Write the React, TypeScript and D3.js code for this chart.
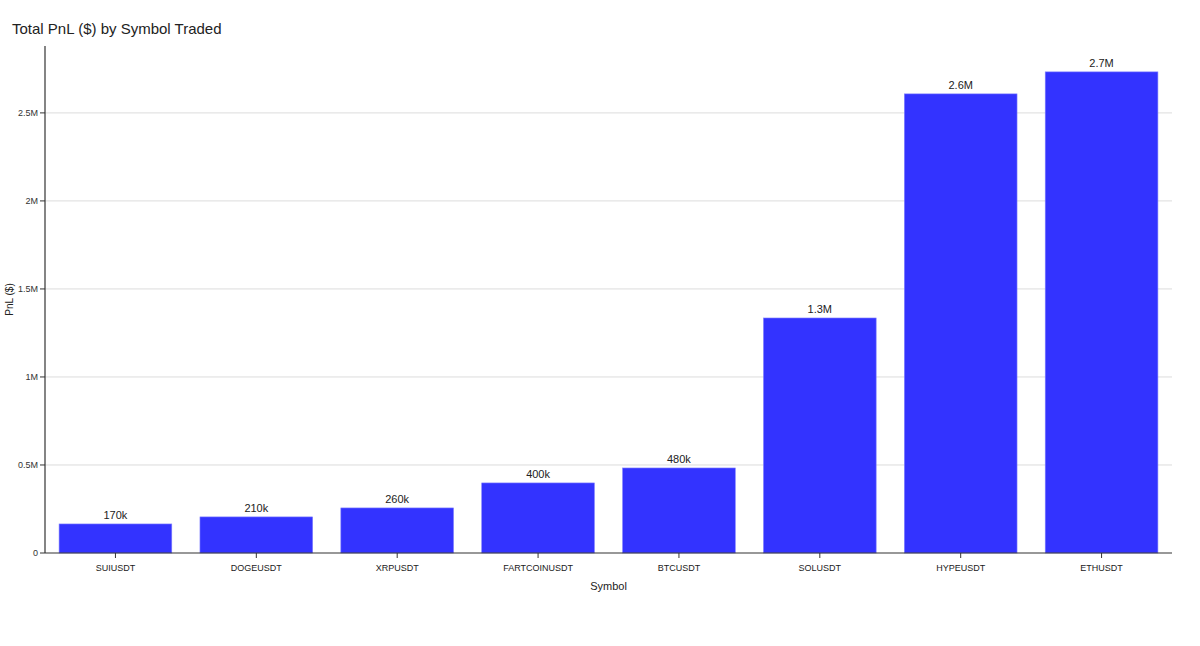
import React from "react";
import * as d3 from "d3";

const symbols = ["SUIUSDT", "DOGEUSDT", "XRPUSDT", "FARTCOINUSDT", "BTCUSDT", "SOLUSDT", "HYPEUSDT", "ETHUSDT"];
const pnl = [165000, 205000, 256000, 398000, 483000, 1335000, 2608000, 2733000];
const barLabels = ["170k", "210k", "260k", "400k", "480k", "1.3M", "2.6M", "2.7M"];
const yTicks = [0, 500000, 1000000, 1500000, 2000000, 2500000];
const yTickLabels = ["0", "0.5M", "1M", "1.5M", "2M", "2.5M"];

const W = 1200;
const H = 646;
const margin = { left: 45, right: 28, top: 46, bottom: 93 };
const FONT = "'Liberation Sans', Arial, Helvetica, sans-serif";

export default function App() {
  const x = d3
    .scaleBand<string>()
    .domain(symbols)
    .range([margin.left, W - margin.right])
    .paddingInner(0.2)
    .paddingOuter(0.1);
  const y = d3
    .scaleLinear()
    .domain([0, 2880000])
    .range([H - margin.bottom, margin.top]);
  const y0 = y(0);

  return (
    <svg
      width={W}
      height={H}
      style={{ position: "absolute", left: 0, top: 0, background: "#fff" }}
      fontFamily={FONT}
    >
      <text x={12} y={34} fontSize={15} fill="#222">
        Total PnL ($) by Symbol Traded
      </text>
      {yTicks.map((t, i) => (
        <g key={t}>
          {t > 0 && (
            <line x1={margin.left} x2={W - margin.right} y1={y(t)} y2={y(t)} stroke="#dcdcdc" strokeWidth={1} />
          )}
          <line x1={margin.left - 5} x2={margin.left} y1={y(t)} y2={y(t)} stroke="#333" />
          <text x={margin.left - 7} y={y(t)} dy="0.35em" textAnchor="end" fontSize={9} fill="#333">
            {yTickLabels[i]}
          </text>
        </g>
      ))}
      {symbols.map((s, i) => (
        <g key={s}>
          <rect
            x={x(s)!}
            y={y(pnl[i])}
            width={x.bandwidth()}
            height={y0 - y(pnl[i])}
            fill="#3333ff"
            stroke="#8080ff"
            strokeWidth={0.6}
          />
          <text x={x(s)! + x.bandwidth() / 2} y={y(pnl[i]) - 5} textAnchor="middle" fontSize={11} fill="#222">
            {barLabels[i]}
          </text>
          <line
            x1={x(s)! + x.bandwidth() / 2}
            x2={x(s)! + x.bandwidth() / 2}
            y1={y0}
            y2={y0 + 5}
            stroke="#333"
          />
          <text x={x(s)! + x.bandwidth() / 2} y={y0 + 18} textAnchor="middle" fontSize={9} fill="#222">
            {s}
          </text>
        </g>
      ))}
      <line x1={margin.left} x2={margin.left} y1={margin.top} y2={y0} stroke="#333" strokeWidth={1.2} />
      <line x1={margin.left} x2={W - margin.right} y1={y0} y2={y0} stroke="#333" strokeWidth={1.2} />
      <text x={(margin.left + W - margin.right) / 2} y={590} textAnchor="middle" fontSize={11} fill="#222">
        Symbol
      </text>
      <text
        transform={`translate(13, ${(margin.top + y0) / 2}) rotate(-90)`}
        textAnchor="middle"
        fontSize={10}
        fill="#222"
      >
        PnL ($)
      </text>
    </svg>
  );
}
